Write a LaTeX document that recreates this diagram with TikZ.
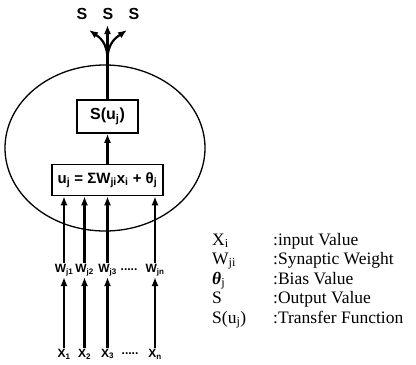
\documentclass[tikz,border=0pt]{standalone}
\usepackage{fontspec}
\setmainfont{Liberation Serif}
\setsansfont{Liberation Sans}
\usetikzlibrary{shapes.geometric,arrows.meta,positioning}

\begin{document}
\begin{tikzpicture}[
	x=1pt, y=-1pt,
	font=\sffamily\bfseries,
	wire/.style={draw, line width=2.2pt, -{Latex[length=9pt,width=7pt]}},
	link/.style={draw, line width=2.2pt},
	cell/.style={
		draw=black,
		line width=1.5pt,
		inner sep=0pt,
		align=center
	},
	weight/.style={font=\sffamily\bfseries\fontsize{12}{13}\selectfont, inner sep=1pt},
	outlabel/.style={font=\sffamily\bfseries\fontsize{16}{18}\selectfont, inner sep=0pt},
	sym/.style={font=\rmfamily\fontsize{17.5}{19}\selectfont, anchor=base west, inner sep=0pt},
	desc/.style={font=\rmfamily\fontsize{17.5}{19}\selectfont, anchor=base west, inner sep=0pt}
	]
	
	\useasboundingbox (0,0) rectangle (416,365);
	
	% neuron body
	\node[draw, ellipse, line width=1.3pt, minimum width=200pt, minimum height=166pt, inner sep=0pt]
	(neuron) at (105,148) {};
	
	\node[cell, minimum width=61pt, minimum height=33pt, font=\sffamily\bfseries\fontsize{16}{18}\selectfont]
	(transfer) at (107.5,116.5) {S(u\textsubscript{j})};
	
	\node[cell, minimum width=111pt, minimum height=31pt, font=\sffamily\bfseries\fontsize{15}{18}\selectfont]
	(summation) at (107.5,180) {u\textsubscript{j} = ΣW\textsubscript{ji}x\textsubscript{i} + θ\textsubscript{j}};
	
	\draw[wire] (summation.north) -- (transfer.south);
	
	% outputs
	\coordinate (fork) at (107.5,60);
	\coordinate (outL) at (89,30);
	\coordinate (outM) at (107.5,25);
	\coordinate (outR) at (127,30);
	\draw[link] (transfer.north) -- (fork);
	\draw[wire] (fork) -- (outM);
	\draw[wire] (fork) .. controls (107.5,42) and (99,37) .. (outL);
	\draw[wire] (fork) .. controls (107.5,42) and (117,37) .. (outR);
	
	\node[outlabel] (s1) at (82,14) {S};
	\node[outlabel] (s2) at (108,14) {S};
	\node[outlabel] (s3) at (134,14) {S};
	
	% weights
	\node[weight] (w1) at (64,270) {W\textsubscript{j1}};
	\node[weight] (w2) at (84.5,270) {W\textsubscript{j2}};
	\node[weight] (w3) at (107.5,270) {W\textsubscript{j3}};
	\node[weight] (wdots) at (129,270) {.....};
	\node[weight] (wn) at (155,270) {W\textsubscript{jn}};
	
	% inputs
	\node[weight] (x1) at (64,354) {X\textsubscript{1}};
	\node[weight] (x2) at (84.5,354) {X\textsubscript{2}};
	\node[weight] (x3) at (107.5,354) {X\textsubscript{3}};
	\node[weight] (xdots) at (130,354) {.....};
	\node[weight] (xn) at (155,354) {X\textsubscript{n}};
	
	\draw[wire] (w1.north) -- (w1.north |- summation.south);
	\draw[wire] (w2.north) -- (w2.north |- summation.south);
	\draw[wire] (w3.north) -- (w3.north |- summation.south);
	\draw[wire] (wn.north) -- (wn.north |- summation.south);
	
	\draw[wire] (x1.north) -- (w1.south);
	\draw[wire] (x2.north) -- (w2.south);
	\draw[wire] (x3.north) -- (w3.south);
	\draw[wire] (xn.north) -- (wn.south);
	
	% legend
	\node[sym] (kx) at (212,245) {X\textsubscript{i}};
	\node[sym] (kw) at (212,264) {W\textsubscript{ji}};
	\node[sym] (kt) at (212,284) {\textbf{\textit{θ}}\textsubscript{j}};
	\node[sym] (ks) at (212,303) {S};
	\node[sym] (ku) at (212,323) {S(u\textsubscript{j})};
	
	\node[desc] (dx) at (273,245) {:input Value};
	\node[desc] (dw) at (273,264) {:Synaptic Weight};
	\node[desc] (dt) at (273,284) {:Bias Value};
	\node[desc] (ds) at (273,303) {:Output Value};
	\node[desc] (du) at (273,323) {:Transfer Function};
\end{tikzpicture}
\end{document}
